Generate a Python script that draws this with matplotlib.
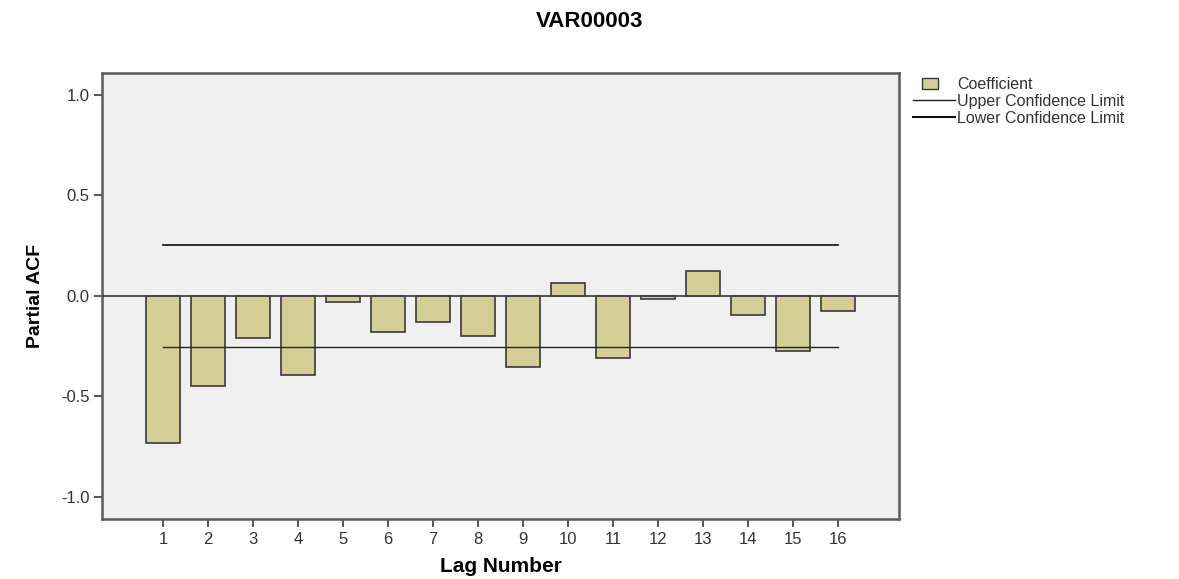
import matplotlib.pyplot as plt
from matplotlib.legend_handler import HandlerPatch
from matplotlib.lines import Line2D
from matplotlib.patches import Patch, Rectangle

plt.rcParams["font.family"] = ["Liberation Sans", "DejaVu Sans"]

TITLE = "VAR00003"
LAGS = list(range(1, 17))
PACF = [-0.729, -0.446, -0.208, -0.393, -0.031, -0.178, -0.128, -0.201,
        -0.355, 0.062, -0.311, -0.018, 0.125, -0.094, -0.275, -0.074]
UPPER_LIMIT = 0.254
LOWER_LIMIT = -0.254

BAR_COLOR = "#D4CF97"
EDGE_COLOR = "#3A3A3A"
PANEL_COLOR = "#F0F0F0"
AXIS_COLOR = "#5A5A5A"


def small_box(legend, orig_handle, xdescent, ydescent, width, height, fontsize):
    # legend swatch narrower than the line handles, as in the SPSS legend
    return Rectangle((width * 0.22 - xdescent, -ydescent + height * 0.05),
                     width * 0.38, height * 0.9)


fig = plt.figure(figsize=(11.79, 5.79), dpi=100)
ax = fig.add_axes([0.0865, 0.1036, 0.676, 0.7708])
ax.set_facecolor(PANEL_COLOR)

ax.bar(LAGS, PACF, width=0.77, color=BAR_COLOR, edgecolor=EDGE_COLOR,
       linewidth=1.2, zorder=2)
ax.axhline(0, color="#444444", linewidth=1.3, zorder=3)
ax.plot([LAGS[0], LAGS[-1]], [UPPER_LIMIT, UPPER_LIMIT], color="#222222",
        linewidth=1.3, zorder=4)
ax.plot([LAGS[0], LAGS[-1]], [LOWER_LIMIT, LOWER_LIMIT], color="#222222",
        linewidth=1.0, zorder=4)

ax.set_xlim(-0.356, 17.356)
ax.set_ylim(-1.109, 1.109)
ax.set_xticks(LAGS)
ax.set_yticks([-1.0, -0.5, 0.0, 0.5, 1.0])
ax.set_yticklabels(["-1.0", "-0.5", "0.0", "0.5", "1.0"])
ax.tick_params(direction="out", length=6, width=1.5, color=AXIS_COLOR,
               labelsize=12, labelcolor="#333333", pad=3)
for spine in ax.spines.values():
    spine.set_color(AXIS_COLOR)
    spine.set_linewidth(1.8)

ax.set_ylabel("Partial ACF", fontsize=14, fontweight="bold", labelpad=12)
fig.text(0.4245, 0.012, "Lag Number", ha="center", va="baseline",
         fontsize=15, fontweight="bold")
fig.text(0.5, 0.963, TITLE, ha="center", va="center", fontsize=16,
         fontweight="bold")

handles = [
    Patch(facecolor=BAR_COLOR, edgecolor=EDGE_COLOR, linewidth=1.0),
    Line2D([], [], color="#222222", linewidth=1.0),
    Line2D([], [], color="#111111", linewidth=1.5),
]
labels = ["Coefficient", "Upper Confidence Limit", "Lower Confidence Limit"]
fig.legend(handles, labels, loc="upper left", bbox_to_anchor=(0.769, 0.878),
           frameon=False, fontsize=11.5, handlelength=2.6, handleheight=0.75,
           handletextpad=0.15, labelspacing=0.12, borderaxespad=0,
           labelcolor="#333333",
           handler_map={Patch: HandlerPatch(patch_func=small_box)})

fig.savefig("out.png", dpi=100)
